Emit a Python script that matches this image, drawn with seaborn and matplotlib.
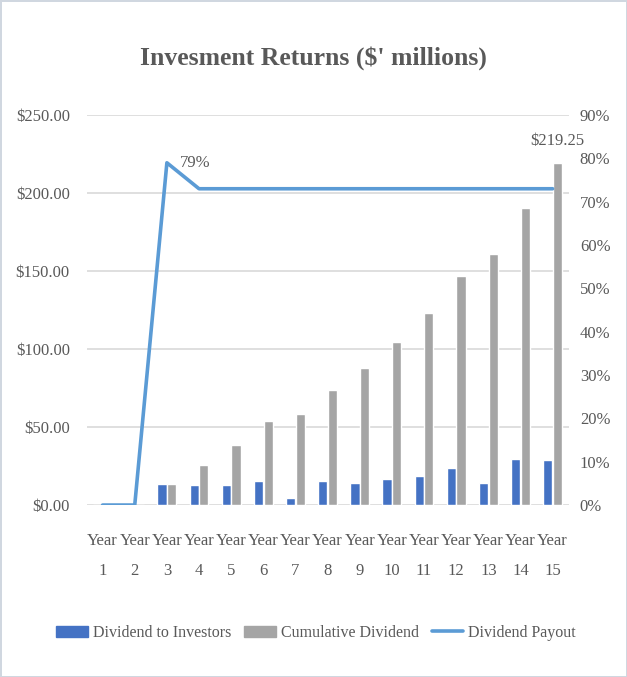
import matplotlib.pyplot as plt
import pandas as pd
import seaborn as sns
from matplotlib.lines import Line2D
from matplotlib.patches import Patch

years = ["Year\n%d" % i for i in range(1, 16)]
dividend = [0, 0, 13.2, 12.6, 12.6, 15.2, 4.8, 15.2, 14.0, 16.8, 18.7, 23.7, 14.0, 29.4, 29.0]
cumulative = [0, 0, 13.2, 25.8, 38.4, 53.6, 58.4, 73.6, 87.6, 104.4, 123.1, 146.8, 160.8, 190.2, 219.25]
payout = [0, 0, 79, 73, 73, 73, 73, 73, 73, 73, 73, 73, 73, 73, 73]

df = pd.DataFrame({
    "year": years * 2,
    "value": dividend + cumulative,
    "series": ["Dividend to Investors"] * 15 + ["Cumulative Dividend"] * 15,
})

sns.set_style("white")
plt.rcParams['font.family'] = ['Liberation Serif', 'DejaVu Sans']
txt = "#595959"
blue, grey, line_c = "#4472C4", "#A5A5A5", "#5B9BD5"

fig = plt.figure(figsize=(6.27, 6.77), dpi=100)
fig.patch.set_edgecolor("#D0D7E0")
fig.patch.set_linewidth(2)
ax = fig.add_axes([0.138, 0.254, 0.769, 0.576])

sns.barplot(data=df, x="year", y="value", hue="series", palette=[blue, grey],
            width=0.6, gap=0.05, ax=ax, legend=False, saturation=1)
ax.set_ylim(0, 250)
ax.set_yticks(range(0, 251, 50))
ax.set_yticklabels(["$%.2f" % v for v in range(0, 251, 50)])
ax.yaxis.grid(True, color="#D9D9D9", linewidth=1.2)
ax.set_axisbelow(True)
ax.set_xlabel("")
ax.set_ylabel("")
for s in ax.spines.values():
    s.set_visible(False)
ax.tick_params(axis="both", colors=txt, labelsize=12, length=0)
ax.tick_params(axis="x", pad=20)
ax.tick_params(axis="y", pad=12)
for lab in ax.get_xticklabels():
    lab.set_linespacing(2.2)

ax2 = ax.twinx()
sns.lineplot(x=years, y=payout, ax=ax2, color=line_c, linewidth=2.6, sort=False)
ax2.set_ylim(0, 90)
ax2.set_yticks(range(0, 91, 10))
ax2.set_yticklabels(["%d%%" % v for v in range(0, 91, 10)])
ax2.tick_params(axis="y", colors=txt, labelsize=12, length=0, pad=8)
for s in ax2.spines.values():
    s.set_visible(False)
ax2.set_ylabel("")
ax.set_xlim(-0.5, len(years) - 0.5)

ax2.annotate("%d%%" % payout[2], (2, payout[2]), xytext=(9, 0), textcoords="offset points",
             color=txt, fontsize=12, va="center", ha="left")
ax.annotate("$%.2f" % cumulative[-1], (14.14, cumulative[-1]), xytext=(0, 10),
            textcoords="offset points", color=txt, fontsize=12, va="bottom", ha="center")

fig.text(0.5, 0.914, "Invesment Returns ($' millions)", ha="center", va="center",
         fontsize=18.5, fontweight="bold", color=txt)

handles = [Patch(color=blue), Patch(color=grey), Line2D([], [], color=line_c, linewidth=2.6)]
labels = ["Dividend to Investors", "Cumulative Dividend", "Dividend Payout"]
fig.legend(handles, labels, loc="center", bbox_to_anchor=(0.504, 0.065), ncol=3, frameon=False,
           fontsize=11.5, labelcolor=txt, handlelength=2.0, handletextpad=0.3, columnspacing=0.8)

fig.savefig("out.png", dpi=100)
